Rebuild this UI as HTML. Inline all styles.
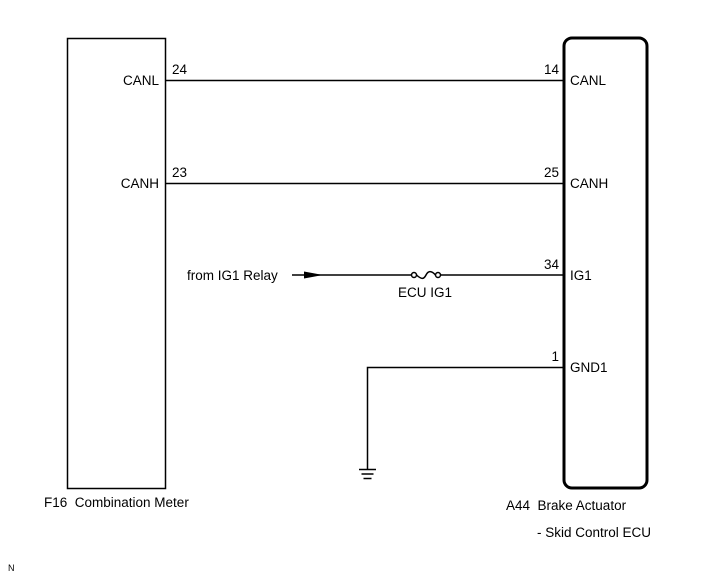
<!DOCTYPE html>
<html><head><meta charset="utf-8"><style>
html,body{margin:0;padding:0;background:#fff;}
svg{display:block;}
text{font-family:"Liberation Sans",Arial,sans-serif;fill:#000;white-space:pre;}
</style></head><body>
<svg width="713" height="581" viewBox="0 0 713 581" xmlns="http://www.w3.org/2000/svg" xml:space="preserve">
<g fill="none" stroke="#000">
<rect x="67.5" y="38.5" width="98" height="450" stroke-width="1.5"/>
<rect x="564" y="38" width="83" height="450" rx="8" ry="8" stroke-width="3"/>
<g stroke-width="1.5">
<line x1="165" y1="80.5" x2="563" y2="80.5"/>
<line x1="165" y1="183.5" x2="563" y2="183.5"/>
<line x1="292" y1="275" x2="411.5" y2="275"/>
<line x1="440.5" y1="275" x2="563" y2="275"/>
<path d="M416.5 275 C422 280, 424 279, 426 275 C428 271, 431 270, 435.5 275"/>
<circle cx="414" cy="275" r="2.5"/>
<circle cx="438" cy="275" r="2.5"/>
<polyline points="563,367.5 367.5,367.5 367.5,469"/>
<line x1="359" y1="469.5" x2="376" y2="469.5"/>
<line x1="361.5" y1="474" x2="373.5" y2="474"/>
<line x1="363.5" y1="478.5" x2="371.5" y2="478.5"/>
</g>
</g>
<polygon points="304,271.5 323,275 304,278.5" fill="#000"/>
<g font-size="13.5">
<text x="159" y="85" text-anchor="end">CANL</text>
<text x="159" y="188" text-anchor="end">CANH</text>
<text x="172" y="74">24</text>
<text x="172" y="177">23</text>
<text x="559" y="74" text-anchor="end">14</text>
<text x="559" y="177" text-anchor="end">25</text>
<text x="559" y="269" text-anchor="end">34</text>
<text x="559" y="361" text-anchor="end">1</text>
<text x="570" y="85">CANL</text>
<text x="570" y="188">CANH</text>
<text x="570" y="280">IG1</text>
<text x="570" y="372">GND1</text>
<text x="187" y="280">from IG1 Relay</text>
<text x="398" y="297">ECU IG1</text>
<text x="44" y="507">F16  Combination Meter</text>
<text x="506" y="510">A44  Brake Actuator</text>
<text x="537" y="537">- Skid Control ECU</text>
</g>
<text x="8" y="571" font-size="9">N</text>
</svg>
</body></html>
